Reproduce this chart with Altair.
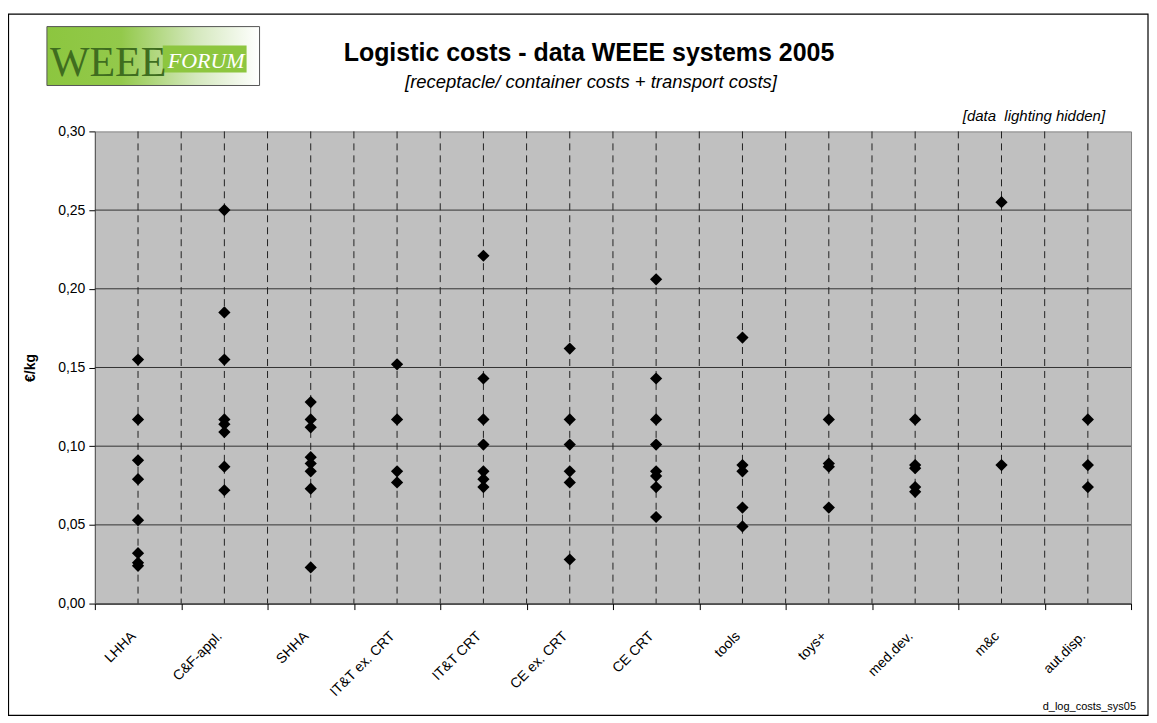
import altair as alt
import pandas as pd

categories = ["LHHA", "C&F-appl.", "SHHA", "IT&T ex. CRT", "IT&T CRT", "CE ex. CRT",
              "CE CRT", "tools", "toys+", "med.dev.", "m&c", "aut.disp."]

lhha = [0.155, 0.117, 0.091, 0.079, 0.053, 0.032, 0.026, 0.024]
cf_appl = [0.250, 0.185, 0.155, 0.117, 0.114, 0.109, 0.087, 0.072]
shha = [0.128, 0.117, 0.112, 0.093, 0.089, 0.084, 0.073, 0.023]
itt_ex_crt = [0.152, 0.117, 0.084, 0.077]
itt_crt = [0.221, 0.143, 0.117, 0.101, 0.084, 0.079, 0.074]
ce_ex_crt = [0.162, 0.117, 0.101, 0.084, 0.077, 0.028]
ce_crt = [0.206, 0.143, 0.117, 0.101, 0.084, 0.081, 0.074, 0.055]
tools = [0.169, 0.088, 0.084, 0.061, 0.049]
toys = [0.117, 0.089, 0.087, 0.061]
med_dev = [0.117, 0.088, 0.086, 0.074, 0.071]
m_c = [0.255, 0.088]
aut_disp = [0.117, 0.088, 0.074]

series = [lhha, cf_appl, shha, itt_ex_crt, itt_crt, ce_ex_crt, ce_crt,
          tools, toys, med_dev, m_c, aut_disp]

y_ticks = [0.0, 0.05, 0.10, 0.15, 0.20, 0.25, 0.30]
grid_values = [0.05, 0.10, 0.15, 0.20, 0.25]

title_text = "Logistic costs - data WEEE systems 2005"
subtitle_text = "[receptacle/ container costs + transport costs]"
note_text = "[data \u00a0lighting hidden]"
footer_text = "d_log_costs_sys05"
y_title = "€/kg"

points = pd.DataFrame(
    [{"cat": c, "v": v} for c, vals in zip(categories, series) for v in vals]
)
cats_df = pd.DataFrame({"cat": categories})
grid_df = pd.DataFrame({"v": grid_values})
one = pd.DataFrame({"a": [0]})

W, H = 1038, 473
FONT = "Liberation Sans"

xscale = alt.Scale(type="band", domain=categories, paddingInner=0, paddingOuter=0)
yscale = alt.Scale(domain=[0, 0.3], nice=False, zero=True)

# outer frame
frame = alt.Chart(one).mark_rect(fill="white", fillOpacity=0, stroke="black", strokeWidth=1.2).encode(
    x=alt.value(-86.5), x2=alt.value(1055), y=alt.value(-117.5), y2=alt.value(585)
)

# logo
logo_bg = alt.Chart(one).mark_rect(
    fill=alt.LinearGradient(
        gradient="linear",
        stops=[alt.GradientStop(color="#8cc63f", offset=0),
               alt.GradientStop(color="#93c94b", offset=0.35),
               alt.GradientStop(color="#d4e8bd", offset=0.7),
               alt.GradientStop(color="#ffffff", offset=1)],
        x1=0, x2=1, y1=0, y2=0),
    stroke="#555555", strokeWidth=1
).encode(x=alt.value(-48), x2=alt.value(165), y=alt.value(-105), y2=alt.value(-46))
logo_strip = alt.Chart(one).mark_rect(fill="#8dc63f").encode(
    x=alt.value(68), x2=alt.value(152), y=alt.value(-86), y2=alt.value(-59)
)
logo_weee = alt.Chart(one).mark_text(
    text="WEEE", font="Liberation Serif", fontSize=42, color="#3f6d1f",
    align="left", baseline="alphabetic"
).encode(x=alt.value(-45), y=alt.value(-56))
logo_forum = alt.Chart(one).mark_text(
    text="FORUM", font="Liberation Serif", fontSize=22, fontStyle="italic", color="white",
    align="left", baseline="alphabetic"
).encode(x=alt.value(73), y=alt.value(-64))

title = alt.Chart(one).mark_text(
    text=title_text, font=FONT, fontSize=25, fontWeight="bold", color="black",
    align="center", baseline="alphabetic"
).encode(x=alt.value(495), y=alt.value(-71))
subtitle = alt.Chart(one).mark_text(
    text=subtitle_text, font=FONT, fontSize=18.5, fontStyle="italic", color="black",
    align="center", baseline="alphabetic"
).encode(x=alt.value(497), y=alt.value(-43))
note = alt.Chart(one).mark_text(
    text=note_text, font=FONT, fontSize=15, fontStyle="italic", color="black",
    align="right", baseline="alphabetic"
).encode(x=alt.value(1012), y=alt.value(-10))
footer = alt.Chart(one).mark_text(
    text=footer_text, font=FONT, fontSize=11, color="black",
    align="right", baseline="alphabetic"
).encode(x=alt.value(1043), y=alt.value(580))

# horizontal grid
hgrid = alt.Chart(grid_df).mark_rule(color="#333333", strokeWidth=1).encode(
    y=alt.Y("v:Q", scale=yscale)
)

# vertical dashed lines at category centers and boundaries
vcenter = alt.Chart(cats_df).mark_rule(color="#222222", strokeWidth=1, strokeDash=[7, 5]).encode(
    x=alt.X("cat:N", scale=xscale, sort=categories)
)
vbound = alt.Chart(cats_df[cats_df["cat"] != categories[0]]).mark_rule(
    color="#222222", strokeWidth=1, strokeDash=[7, 5]
).encode(
    x=alt.X("cat:N", scale=xscale, sort=categories, bandPosition=0)
)

pts = alt.Chart(points).mark_point(
    shape="diamond", filled=True, color="black", opacity=1, size=150
).encode(
    x=alt.X("cat:N", scale=xscale, sort=categories,
            axis=alt.Axis(title=None, labelAngle=-45, tickBand="extent", grid=False,
                          labelFont=FONT, labelFontSize=14, labelColor="black",
                          labelAlign="right", labelBaseline="alphabetic",
                          tickColor="black", tickSize=6, domainColor="black",
                          labelPadding=27, labelOffset=-2)),
    y=alt.Y("v:Q", scale=yscale,
            axis=alt.Axis(title=y_title, values=y_ticks, grid=False,
                          labelExpr="replace(format(datum.value, '.2f'), '.', ',')",
                          labelFont=FONT, labelFontSize=14, labelColor="black",
                          tickColor="black", tickSize=6, domainColor="#555555",
                          labelPadding=4,
                          titleFont=FONT, titleFontSize=14, titleFontWeight="bold",
                          titleColor="black", titleAngle=-90, titleX=-64, titleY=H / 2,
                          titleAlign="center", titleBaseline="middle")),
)

chart = alt.layer(
    frame, logo_bg, logo_strip, logo_weee, logo_forum, title, subtitle, note, footer,
    hgrid, vbound, vcenter, pts
).properties(
    width=W, height=H,
    autosize=alt.AutoSizeParams(type="none"),
    padding={"left": 87, "top": 123, "right": 18, "bottom": 112},
).configure_view(
    fill="#c0c0c0", stroke="#808080", strokeWidth=1
)

chart.save("out.html", embed_options={"renderer": "svg", "actions": False})
